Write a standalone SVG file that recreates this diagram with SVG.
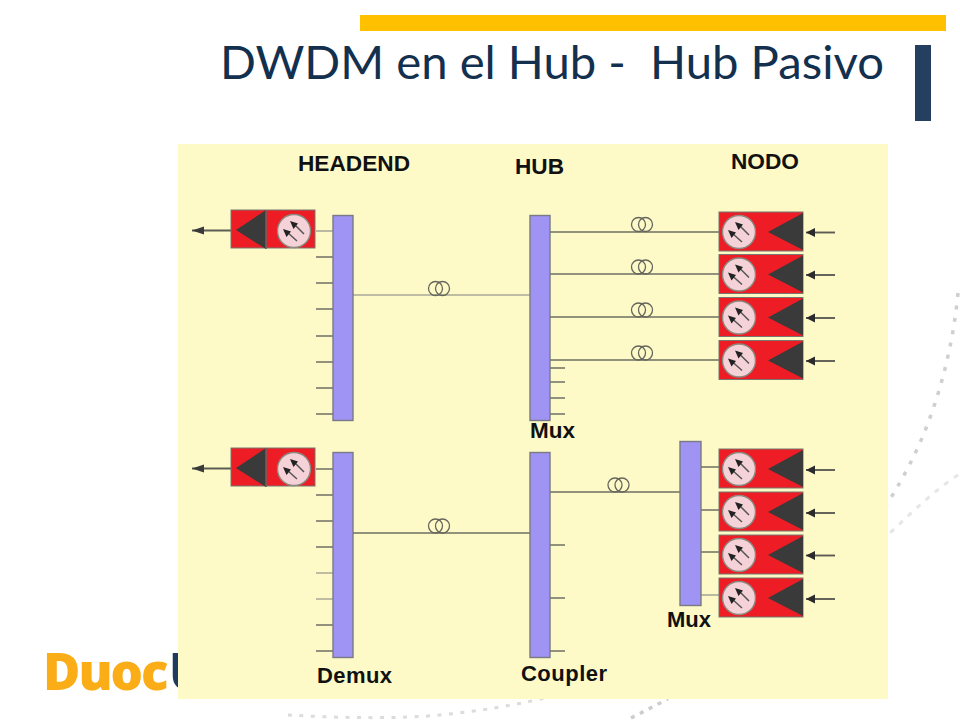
<svg xmlns="http://www.w3.org/2000/svg" width="960" height="720" viewBox="0 0 960 720">
<style>
.bar{fill:#9f93f4;stroke:#7a7a84;stroke-width:1.4}
.ln{stroke:#6f6f62;stroke-width:1.6;fill:none}
.lt{stroke:#a9a998;stroke-width:1.6;fill:none}
.al{stroke:#5c5c55;stroke-width:1.900;fill:none}
.coil{fill:none;stroke:#66665c;stroke-width:1.3}
.lbl{font-family:"Liberation Sans",Arial,sans-serif;font-weight:700;font-size:22px;fill:#111}
.box{fill:#ee1c25;stroke:#77776f;stroke-width:1}
.tri{fill:#3a3a3a}
.dial{fill:#f5d2d8;stroke:#8a8a80;stroke-width:1.4}
.ar{stroke:#555;stroke-width:1.500;fill:none}
.dash{fill:none}
</style>
<defs>
<marker id="ah" markerWidth="10" markerHeight="10" refX="9" refY="5" orient="auto" markerUnits="userSpaceOnUse"><path d="M0 0.500 L9 5 L0 9.500 Z" fill="#2b2b2b"/></marker>
<marker id="ah2" markerWidth="13" markerHeight="10" refX="12" refY="5" orient="auto" markerUnits="userSpaceOnUse"><path d="M0 1 L12 5 L0 9 Z" fill="#3a3a3a"/></marker>
<g id="dialmark">
<circle class="dial" r="16.500"/>
<path d="M-7 1 L3 10 M0 -7 L10 3" class="ar"/>
<path d="M-11 -2 L-7.500 6 L-3 0.500 Z M-4 -10 L-0.500 -2 L4 -7.500 Z" fill="#222"/>
</g>
<g id="nodebox">
<rect class="box" x="0" y="0" width="84" height="39"/>
<path class="tri" d="M49 20 L84 1 L84 38 Z"/>
<use href="#dialmark" x="20" y="20"/>
</g>
<g id="txbox">
<rect class="box" x="0" y="0" width="84" height="38"/>
<path class="tri" d="M5 20 L35 0 L35 39 Z"/>
<path d="M35 0 V39" stroke="#66665f" stroke-width="1.500"/>
<use href="#dialmark" x="63" y="21"/>
</g>
<g id="coilmark"><circle class="coil" cx="-3.500" r="7"/><circle class="coil" cx="3.500" r="7"/></g>
</defs>
<rect width="960" height="720" fill="#fff"/>
<g id="decor">
<path class="dash" stroke="#cfcfcf" stroke-width="3.500" stroke-dasharray="4 8.500" d="M958 293 C954 335 945 375 932 412 C920 447 905 475 886 506"/>
<path class="dash" stroke="#e6e6e6" stroke-width="3" stroke-dasharray="5 7" d="M958 475 C935 490 912 512 888 535"/>
<path class="dash" stroke="#dcdcdc" stroke-width="3" stroke-dasharray="4 7.500" d="M288 715 C340 718 400 719 440 715 S510 706 545 698"/>
<path class="dash" stroke="#cdcdcd" stroke-width="3.500" stroke-dasharray="4 6" d="M631 718 L668 699"/>
<rect x="360" y="15" width="586" height="16" fill="#ffc000"/>
<rect x="915" y="45" width="16" height="76" fill="#243f5f"/>
<text x="43" y="690" font-family="'Open Sans','Noto Sans',sans-serif" font-weight="800" font-size="51" letter-spacing="-2" fill="#fbad18">Duoc<tspan x="169" fill="#1f3a5c">U</tspan></text>
</g>
<text id="title" x="220" y="79" font-family="Lato,'Open Sans',sans-serif" font-size="47" fill="#14304f" textLength="664" lengthAdjust="spacingAndGlyphs" xml:space="preserve">DWDM en el Hub -  Hub Pasivo</text>
<rect id="panel" x="178" y="144" width="710" height="555" fill="#fdfac8"/>
<g id="connectors">
<path class="lt" d="M353 295 H530"/>
<path class="ln" d="M353 533 H530 M550 492 H680"/>
<path class="ln" d="M550 232 H719 M550 274 H719 M550 317 H719 M550 360 H719"/>
<path class="ln" d="M550 368 H565 M550 382 H565 M550 398 H565 M550 414 H565"/>
<path class="ln" d="M550 545 H565 M550 598 H565 M550 651 H565"/>
<path class="ln" d="M701 467 H719 M701 510 H719 M701 552 H719"/>
<path class="lt" d="M701 595 H719"/>
<path class="lt" d="M316 231 H333"/>
<path class="ln" d="M316 257 H333 M316 283 H333 M316 309 H333 M316 336 H333 M316 362 H333 M316 388 H333 M316 414 H333"/>
<path class="ln" d="M316 469 H333 M316 495 H333 M316 521 H333 M316 547 H333 M316 625 H333 M316 651 H333"/>
<path class="lt" d="M316 573 H333 M316 599 H333"/>
<path class="al" marker-end="url(#ah2)" d="M231 230.500 H192"/>
<path class="al" marker-end="url(#ah2)" d="M231 468.500 H192"/>
<path class="al" marker-end="url(#ah)" d="M835 232.500 H806"/>
<path class="al" marker-end="url(#ah)" d="M835 275 H806"/>
<path class="al" marker-end="url(#ah)" d="M835 318 H806"/>
<path class="al" marker-end="url(#ah)" d="M835 361 H806"/>
<path class="al" marker-end="url(#ah)" d="M835 470 H806"/>
<path class="al" marker-end="url(#ah)" d="M835 513 H806"/>
<path class="al" marker-end="url(#ah)" d="M835 555.500 H806"/>
<path class="al" marker-end="url(#ah)" d="M835 599 H806"/>
<use href="#coilmark" x="439" y="288.500"/>
<use href="#coilmark" x="642" y="224.500"/>
<use href="#coilmark" x="642" y="267"/>
<use href="#coilmark" x="642" y="310"/>
<use href="#coilmark" x="642" y="353"/>
<use href="#coilmark" x="439" y="526"/>
<use href="#coilmark" x="618.500" y="485"/>
</g>
<g id="demux-top"><rect class="bar" x="333" y="215.500" width="20" height="205"/></g>
<g id="mux-top"><rect class="bar" x="530" y="215.500" width="20" height="205"/></g>
<g id="demux-bottom"><rect class="bar" x="333" y="452.500" width="20" height="205"/></g>
<g id="coupler"><rect class="bar" x="530" y="452.500" width="20" height="205"/></g>
<g id="mux-bottom"><rect class="bar" x="680" y="441.500" width="21" height="164"/></g>
<g id="tx-top"><use href="#txbox" x="231" y="210"/></g>
<g id="tx-bottom"><use href="#txbox" x="231" y="448"/></g>
<g id="node-1"><use href="#nodebox" x="719" y="212"/></g>
<g id="node-2"><use href="#nodebox" x="719" y="254.500"/></g>
<g id="node-3"><use href="#nodebox" x="719" y="297.500"/></g>
<g id="node-4"><use href="#nodebox" x="719" y="340.500"/></g>
<g id="node-5"><use href="#nodebox" x="719" y="449"/></g>
<g id="node-6"><use href="#nodebox" x="719" y="492"/></g>
<g id="node-7"><use href="#nodebox" x="719" y="535"/></g>
<g id="node-8"><use href="#nodebox" x="719" y="578"/></g>
<g id="labels">
<text class="lbl" x="298" y="171" textLength="112" lengthAdjust="spacingAndGlyphs">HEADEND</text>
<text class="lbl" x="515" y="174" textLength="49" lengthAdjust="spacingAndGlyphs">HUB</text>
<text class="lbl" x="731" y="169" textLength="68" lengthAdjust="spacingAndGlyphs">NODO</text>
<text class="lbl" x="530" y="438" textLength="45" lengthAdjust="spacingAndGlyphs">Mux</text>
<text class="lbl" x="667" y="627" textLength="44" lengthAdjust="spacingAndGlyphs">Mux</text>
<text class="lbl" x="317" y="683" textLength="75" lengthAdjust="spacing">Demux</text>
<text class="lbl" x="521" y="681" textLength="86" lengthAdjust="spacing">Coupler</text>
</g>
</svg>
